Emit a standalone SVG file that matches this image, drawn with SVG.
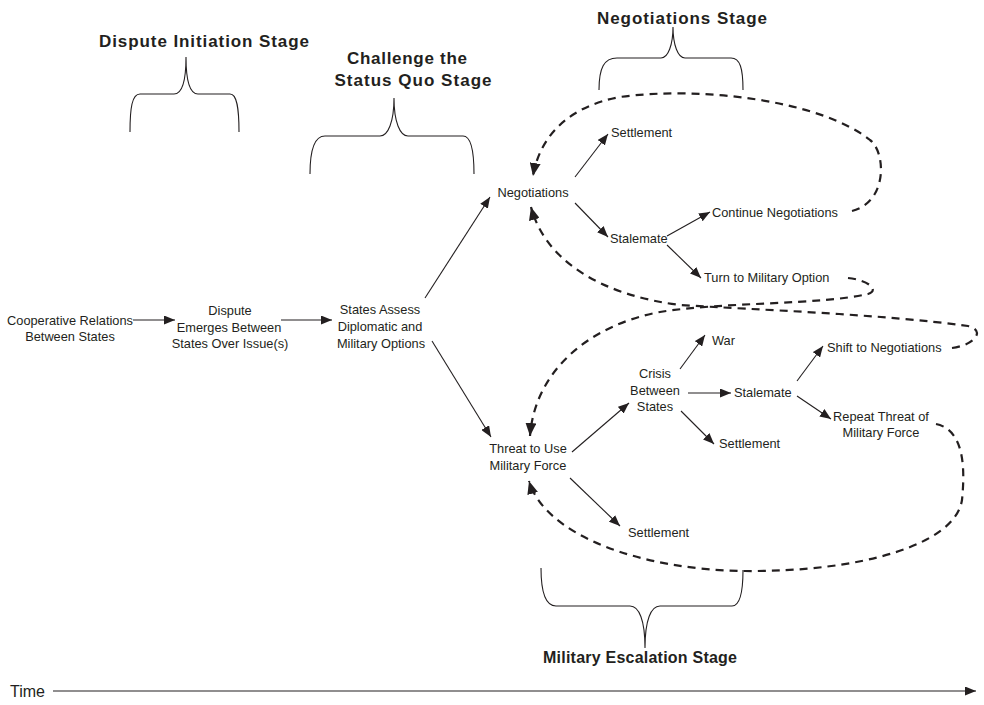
<svg xmlns="http://www.w3.org/2000/svg" width="984" height="705" viewBox="0 0 984 705">
  <style>
    .lbl { font-family: "Liberation Sans", Arial, sans-serif; font-size: 12.8px; fill: #231f20; }
    .mid { text-anchor: middle; }
    .stage { font-family: "Liberation Sans", Arial, sans-serif; font-size: 17px; font-weight: bold; fill: #231f20; text-anchor: middle; }
    .time { font-family: "Liberation Sans", Arial, sans-serif; font-size: 16px; fill: #231f20; }
    .brace { fill: none; stroke: #231f20; stroke-width: 1.1; }
    .arr { fill: none; stroke: #231f20; stroke-width: 1.1; marker-end: url(#head); }
    .loop { fill: none; stroke: #231f20; stroke-width: 2.2; stroke-dasharray: 8 6; marker-end: url(#bighead); }
  </style>
  <defs>
    <marker id="head" markerUnits="userSpaceOnUse" markerWidth="11" markerHeight="9" refX="11" refY="4.5" orient="auto">
      <path d="M0,0 L11,4.5 L0,9 z" fill="#231f20"/>
    </marker>
    <marker id="bighead" markerUnits="userSpaceOnUse" markerWidth="13" markerHeight="11" refX="13" refY="5.5" orient="auto">
      <path d="M0,0 L13,5.5 L0,11 z" fill="#231f20"/>
    </marker>
  </defs>

  <rect width="984" height="705" fill="#ffffff"/>

  <!-- stage braces and titles -->
  <g id="stage-dispute-initiation">
    <text class="stage" x="204" y="47" textLength="210" lengthAdjust="spacing">Dispute Initiation Stage</text>
    <path class="brace" d="M130 132 C130 108 132 94 140 94 L174 94 C182 94 186 80 186 57 C186 80 190 94 198 94 L230 94 C237 94 239 108 239 132"/>
  </g>
  <g id="stage-challenge">
    <text class="stage" x="407" y="64" textLength="120" lengthAdjust="spacing">Challenge the</text>
    <text class="stage" x="413" y="86" textLength="157" lengthAdjust="spacing">Status Quo Stage</text>
    <path class="brace" d="M310 174 C310 150 314 136 325 136 L380 136 C388 136 394 122 394 98 C394 122 400 136 408 136 L463 136 C471 136 474 150 474 174"/>
  </g>
  <g id="stage-negotiations">
    <text class="stage" x="682" y="24" textLength="170" lengthAdjust="spacing">Negotiations Stage</text>
    <path class="brace" d="M599 90 C599 68 604 58 617 58 L661 58 C668 58 673 45 673 27 C673 45 678 58 685 58 L731 58 C740 58 743 68 743 90"/>
  </g>
  <g id="stage-military-escalation">
    <path class="brace" d="M541 568 C541 592 545 606 556 606 L630 606 C639 606 645 620 645 648 C645 620 651 606 660 606 L732 606 C740 606 743 592 743 570"/>
    <text class="stage" x="640" y="663" style="font-size:16px" textLength="194" lengthAdjust="spacing">Military Escalation Stage</text>
  </g>

  <!-- nodes -->
  <g id="cooperative-relations">
    <text class="lbl mid" x="70" y="325">Cooperative Relations</text>
    <text class="lbl mid" x="70" y="341">Between States</text>
  </g>
  <g id="dispute-emerges">
    <text class="lbl mid" x="230" y="315">Dispute</text>
    <text class="lbl mid" x="229" y="332">Emerges Between</text>
    <text class="lbl mid" x="230" y="348">States Over Issue(s)</text>
  </g>
  <g id="states-assess">
    <text class="lbl mid" x="380" y="314">States Assess</text>
    <text class="lbl mid" x="380" y="331">Diplomatic and</text>
    <text class="lbl mid" x="381" y="348">Military Options</text>
  </g>
  <g id="negotiations">
    <text class="lbl mid" x="533" y="197">Negotiations</text>
  </g>
  <g id="settlement-negotiations">
    <text class="lbl" x="611" y="137">Settlement</text>
  </g>
  <g id="stalemate-negotiations">
    <text class="lbl" x="610" y="243">Stalemate</text>
  </g>
  <g id="continue-negotiations">
    <text class="lbl" x="712" y="217">Continue Negotiations</text>
  </g>
  <g id="turn-to-military">
    <text class="lbl" x="704" y="282">Turn to Military Option</text>
  </g>
  <g id="threat-to-use-force">
    <text class="lbl mid" x="528" y="453">Threat to Use</text>
    <text class="lbl mid" x="528" y="470">Military Force</text>
  </g>
  <g id="crisis">
    <text class="lbl mid" x="655" y="378">Crisis</text>
    <text class="lbl mid" x="655" y="395">Between</text>
    <text class="lbl mid" x="655" y="411">States</text>
  </g>
  <g id="war">
    <text class="lbl" x="712" y="345">War</text>
  </g>
  <g id="stalemate-crisis">
    <text class="lbl" x="734" y="397">Stalemate</text>
  </g>
  <g id="settlement-crisis">
    <text class="lbl" x="719" y="448">Settlement</text>
  </g>
  <g id="shift-to-negotiations">
    <text class="lbl" x="827" y="352">Shift to Negotiations</text>
  </g>
  <g id="repeat-threat">
    <text class="lbl mid" x="881" y="421">Repeat Threat of</text>
    <text class="lbl mid" x="881" y="437">Military Force</text>
  </g>
  <g id="settlement-threat">
    <text class="lbl" x="628" y="537">Settlement</text>
  </g>

  <!-- connectors -->
  <g id="connectors">
    <line class="arr" x1="133" y1="320" x2="175" y2="320"/>
    <line class="arr" x1="281" y1="320" x2="332" y2="320"/>
    <line class="arr" x1="425" y1="298" x2="490" y2="197"/>
    <line class="arr" x1="432" y1="341" x2="491" y2="437"/>
    <line class="arr" x1="575" y1="177" x2="608" y2="134"/>
    <line class="arr" x1="575" y1="203" x2="608" y2="237"/>
    <line class="arr" x1="667" y1="236" x2="710" y2="212"/>
    <line class="arr" x1="667" y1="245" x2="701" y2="278"/>
    <line class="arr" x1="572" y1="452" x2="629" y2="403"/>
    <line class="arr" x1="680" y1="369" x2="705" y2="335"/>
    <line class="arr" x1="688" y1="393" x2="731" y2="393"/>
    <line class="arr" x1="681" y1="411" x2="714" y2="444"/>
    <line class="arr" x1="797" y1="381" x2="823" y2="346"/>
    <line class="arr" x1="797" y1="396" x2="831" y2="419"/>
    <line class="arr" x1="570" y1="478" x2="620" y2="526"/>

    <!-- dashed feedback loops -->
    <path class="loop" d="M852 211 C888 202 886 152 870 140 C820 100 700 86 620 97 C570 106 540 135 533 176"/>
    <path class="loop" d="M848 278 C868 280 880 290 868 294 C820 305 720 302 660 312 C590 325 535 370 530 436"/>
    <path class="loop" d="M952 348 C975 345 986 330 968 326 C880 314 760 310 680 305 C600 295 545 260 531 207"/>
    <path class="loop" d="M936 424 C965 430 965 470 962 500 C955 545 860 572 745 571 C640 570 545 535 529 481"/>

    <!-- time axis -->
    <line class="arr" x1="53" y1="691" x2="976" y2="691"/>
  </g>
  <text class="time" x="10" y="697">Time</text>
</svg>
